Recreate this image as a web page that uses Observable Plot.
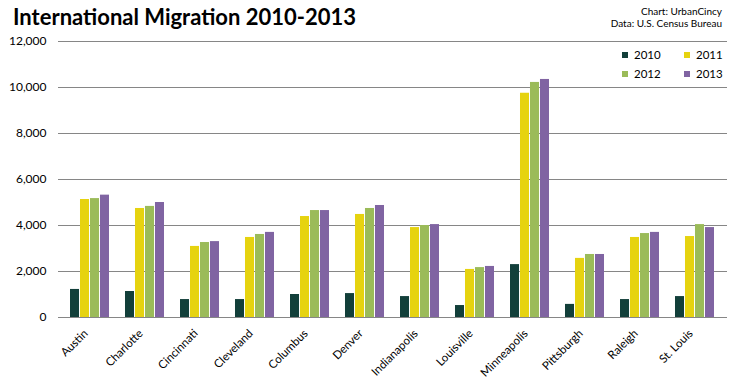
<!DOCTYPE html>
<html><head><meta charset="utf-8">
<script src="https://cdn.jsdelivr.net/npm/d3@7"></script>
<script src="https://cdn.jsdelivr.net/npm/@observablehq/plot@0.6"></script>
<style>
body{margin:0;background:#fff;font-family:Lato,"Open Sans",sans-serif;}
#wrap{position:relative;width:741px;height:389px;}
#title{position:absolute;left:13px;top:3px;font-size:22px;font-weight:bold;color:#000;white-space:nowrap;}
#source{position:absolute;right:19px;top:5px;font-size:10px;line-height:12px;text-align:right;color:#000;}
#legend{position:absolute;left:622px;top:47px;font-size:11.5px;color:#000;}
#legend .it{position:absolute;white-space:nowrap;line-height:16px;}
#legend .sw{display:inline-block;width:6px;height:6px;margin-right:6px;vertical-align:1px;}
</style></head>
<body><div id="wrap">
<div id="chart"></div>
<div id="title">International Migration 2010-2013</div>
<div id="source">Chart: UrbanCincy<br>Data: U.S. Census Bureau</div>
<div id="legend"></div>
</div>
<script>
const cities = ["Austin","Charlotte","Cincinnati","Cleveland","Columbus","Denver","Indianapolis","Louisville","Minneapolis","Pittsburgh","Raleigh","St. Louis"];
const years = ["2010","2011","2012","2013"];
const colors = ["#123f3a","#e6d30f","#9bbb59","#8064a2"];
const v2010 = [1220,1130,780,780,1000,1040,910,520,2300,570,780,910];
const v2011 = [5130,4740,3090,3480,4390,4480,3910,2090,9750,2570,3480,3520];
const v2012 = [5170,4830,3260,3610,4650,4740,4000,2170,10220,2740,3650,4040];
const v2013 = [5320,5000,3300,3700,4650,4870,4040,2220,10350,2740,3700,3910];
const yTicks = [0,2000,4000,6000,8000,10000,12000];

const series = [v2010,v2011,v2012,v2013];
const W = 741, ML = 58, MR = 14;
const padIn = 0.283;
const step = (W - ML - MR) / cities.length;
const bw = step * (1 - padIn);
const barW = bw / years.length;

const barMarks = series.map((vals, j) =>
  Plot.barY(cities.map((c,i)=>({city:c, year:years[j], value:vals[i]})), {
    x:"city", y:"value", fill:"year",
    insetLeft: barW * j, insetRight: barW * (years.length - 1 - j)
  })
);

const chart = Plot.plot({
  width:W, height:389,
  marginTop:41, marginBottom:72, marginLeft:ML, marginRight:MR,
  style:{fontFamily:"Lato, 'Open Sans', sans-serif", fontSize:"12px", color:"#000", background:"#fff"},
  x:{domain:cities, paddingInner:padIn, paddingOuter:padIn/2, label:null},
  y:{domain:[0,12000], label:null},
  color:{domain:years, range:colors},
  marks:[
    Plot.ruleY(yTicks, {stroke:"#868686", strokeWidth:1, strokeOpacity:1}),
    ...barMarks,
    Plot.axisY(yTicks, {tickSize:0, tickPadding:12, tickFormat:d3.format(",d"), label:null, fontSize:12}),
    Plot.axisX({tickRotate:-45, tickSize:0, tickPadding:14, dx:-4, label:null, fontSize:11.5})
  ]
});
document.getElementById("chart").appendChild(chart);

const leg = document.getElementById("legend");
const pos = [[0,0],[62,0],[0,19],[62,19]];
years.forEach((y,i)=>{
  const d = document.createElement("div");
  d.className="it";
  d.style.left=pos[i][0]+"px"; d.style.top=pos[i][1]+"px";
  d.innerHTML=`<span class="sw" style="background:${colors[i]}"></span>${y}`;
  leg.appendChild(d);
});
</script>
</body></html>
